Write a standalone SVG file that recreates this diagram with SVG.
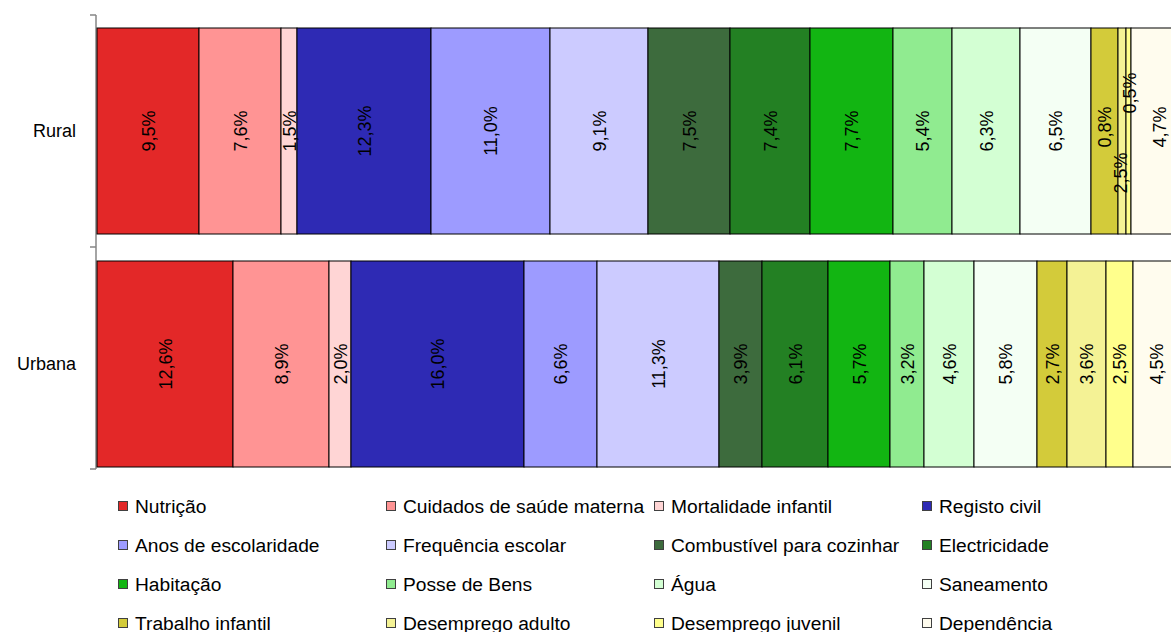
<svg xmlns="http://www.w3.org/2000/svg" width="1171" height="632" viewBox="0 0 1171 632">
<style>
text{font-family:"Liberation Sans",Arial,sans-serif;fill:#000}
.seg rect{stroke:#000;stroke-width:1}
.val{font-size:18px;text-anchor:middle}
.cat{font-size:18px;text-anchor:end}
.leg text{font-size:19.2px}
.leg rect{stroke:#404040;stroke-width:1}
.axis{stroke:#868686;stroke-width:1.5;fill:none}
.c1{fill:#E32828}.c2{fill:#FF9494}.c3{fill:#FFD5D5}.c4{fill:#2E2AB4}
.c5{fill:#9D9BFF}.c6{fill:#CCCBFF}.c7{fill:#3D6B3D}.c8{fill:#238023}
.c9{fill:#12B512}.c10{fill:#90EB90}.c11{fill:#D3FFD3}.c12{fill:#F4FFF4}
.c13{fill:#D3CB3A}.c14{fill:#F4F295}.c15{fill:#FFFF8C}.c16{fill:#FFFCEE}
</style>
<rect width="1171" height="632" fill="#fff"/>
<g id="axis">
<path class="axis" d="M96 15V469M90 15H96M90 247H96M90 469H96"/>
<text class="cat" x="76" y="137">Rural</text>
<text class="cat" x="76" y="370">Urbana</text>
</g>
<g id="rural" class="seg">
<rect class="c1" x="97" y="28" width="102" height="206"/>
<rect class="c2" x="199" y="28" width="82" height="206"/>
<rect class="c3" x="281" y="28" width="16" height="206"/>
<rect class="c4" x="297" y="28" width="134" height="206"/>
<rect class="c5" x="431" y="28" width="119" height="206"/>
<rect class="c6" x="550" y="28" width="98" height="206"/>
<rect class="c7" x="648" y="28" width="82" height="206"/>
<rect class="c8" x="730" y="28" width="80" height="206"/>
<rect class="c9" x="810" y="28" width="83" height="206"/>
<rect class="c10" x="893" y="28" width="59" height="206"/>
<rect class="c11" x="952" y="28" width="68" height="206"/>
<rect class="c12" x="1020" y="28" width="71" height="206"/>
<rect class="c13" x="1091" y="28" width="27" height="206"/>
<rect class="c14" x="1118" y="28" width="8" height="206"/>
<rect class="c15" x="1126" y="28" width="5" height="206"/>
<rect class="c16" x="1131" y="28" width="60" height="206"/>
</g>
<g id="rural-labels" class="val">
<text transform="translate(148 131) rotate(-90)" dy="6.5">9,5%</text>
<text transform="translate(240 131) rotate(-90)" dy="6.5">7,6%</text>
<text transform="translate(289 131) rotate(-90)" dy="6.5">1,5%</text>
<text transform="translate(364 131) rotate(-90)" dy="6.5">12,3%</text>
<text transform="translate(490 131) rotate(-90)" dy="6.5">11,0%</text>
<text transform="translate(599 131) rotate(-90)" dy="6.5">9,1%</text>
<text transform="translate(689 131) rotate(-90)" dy="6.5">7,5%</text>
<text transform="translate(770 131) rotate(-90)" dy="6.5">7,4%</text>
<text transform="translate(851 131) rotate(-90)" dy="6.5">7,7%</text>
<text transform="translate(922 131) rotate(-90)" dy="6.5">5,4%</text>
<text transform="translate(986 131) rotate(-90)" dy="6.5">6,3%</text>
<text transform="translate(1055 131) rotate(-90)" dy="6.5">6,5%</text>
<text transform="translate(1104 127) rotate(-90)" dy="6.5">0,8%</text>
<text transform="translate(1120 173) rotate(-90)" dy="6.5">2,5%</text>
<text transform="translate(1129 93) rotate(-90)" dy="6.5">0,5%</text>
<text transform="translate(1159 127) rotate(-90)" dy="6.5">4,7%</text>
</g>
<g id="urbana" class="seg">
<rect class="c1" x="97" y="261" width="136" height="206"/>
<rect class="c2" x="233" y="261" width="96" height="206"/>
<rect class="c3" x="329" y="261" width="22" height="206"/>
<rect class="c4" x="351" y="261" width="173" height="206"/>
<rect class="c5" x="524" y="261" width="73" height="206"/>
<rect class="c6" x="597" y="261" width="122" height="206"/>
<rect class="c7" x="719" y="261" width="43" height="206"/>
<rect class="c8" x="762" y="261" width="66" height="206"/>
<rect class="c9" x="828" y="261" width="62" height="206"/>
<rect class="c10" x="890" y="261" width="34" height="206"/>
<rect class="c11" x="924" y="261" width="50" height="206"/>
<rect class="c12" x="974" y="261" width="63" height="206"/>
<rect class="c13" x="1037" y="261" width="30" height="206"/>
<rect class="c14" x="1067" y="261" width="39" height="206"/>
<rect class="c15" x="1106" y="261" width="27" height="206"/>
<rect class="c16" x="1133" y="261" width="58" height="206"/>
</g>
<g id="urbana-labels" class="val">
<text transform="translate(165 364) rotate(-90)" dy="6.5">12,6%</text>
<text transform="translate(281 364) rotate(-90)" dy="6.5">8,9%</text>
<text transform="translate(340 364) rotate(-90)" dy="6.5">2,0%</text>
<text transform="translate(437 364) rotate(-90)" dy="6.5">16,0%</text>
<text transform="translate(560 364) rotate(-90)" dy="6.5">6,6%</text>
<text transform="translate(658 364) rotate(-90)" dy="6.5">11,3%</text>
<text transform="translate(740 364) rotate(-90)" dy="6.5">3,9%</text>
<text transform="translate(795 364) rotate(-90)" dy="6.5">6,1%</text>
<text transform="translate(859 364) rotate(-90)" dy="6.5">5,7%</text>
<text transform="translate(907 364) rotate(-90)" dy="6.5">3,2%</text>
<text transform="translate(949 364) rotate(-90)" dy="6.5">4,6%</text>
<text transform="translate(1005 364) rotate(-90)" dy="6.5">5,8%</text>
<text transform="translate(1052 364) rotate(-90)" dy="6.5">2,7%</text>
<text transform="translate(1086 364) rotate(-90)" dy="6.5">3,6%</text>
<text transform="translate(1119 364) rotate(-90)" dy="6.5">2,5%</text>
<text transform="translate(1156 364) rotate(-90)" dy="6.5">4,5%</text>
</g>
<g id="legend" class="leg">
<rect class="c1" x="118.5" y="501.5" width="9" height="9"/><text x="135" y="513">Nutrição</text>
<rect class="c2" x="386.5" y="501.5" width="9" height="9"/><text x="403" y="513">Cuidados de saúde materna</text>
<rect class="c3" x="654.5" y="501.5" width="9" height="9"/><text x="671" y="513">Mortalidade infantil</text>
<rect class="c4" x="922.5" y="501.5" width="9" height="9"/><text x="939" y="513">Registo civil</text>
<rect class="c5" x="118.5" y="540.5" width="9" height="9"/><text x="135" y="552">Anos de escolaridade</text>
<rect class="c6" x="386.5" y="540.5" width="9" height="9"/><text x="403" y="552">Frequência escolar</text>
<rect class="c7" x="654.5" y="540.5" width="9" height="9"/><text x="671" y="552">Combustível para cozinhar</text>
<rect class="c8" x="922.5" y="540.5" width="9" height="9"/><text x="939" y="552">Electricidade</text>
<rect class="c9" x="118.5" y="579.5" width="9" height="9"/><text x="135" y="591">Habitação</text>
<rect class="c10" x="386.5" y="579.5" width="9" height="9"/><text x="403" y="591">Posse de Bens</text>
<rect class="c11" x="654.5" y="579.5" width="9" height="9"/><text x="671" y="591">Água</text>
<rect class="c12" x="922.5" y="579.5" width="9" height="9"/><text x="939" y="591">Saneamento</text>
<rect class="c13" x="118.5" y="618.5" width="9" height="9"/><text x="135" y="630">Trabalho infantil</text>
<rect class="c14" x="386.5" y="618.5" width="9" height="9"/><text x="403" y="630">Desemprego adulto</text>
<rect class="c15" x="654.5" y="618.5" width="9" height="9"/><text x="671" y="630">Desemprego juvenil</text>
<rect class="c16" x="922.5" y="618.5" width="9" height="9"/><text x="939" y="630">Dependência</text>
</g>
</svg>
